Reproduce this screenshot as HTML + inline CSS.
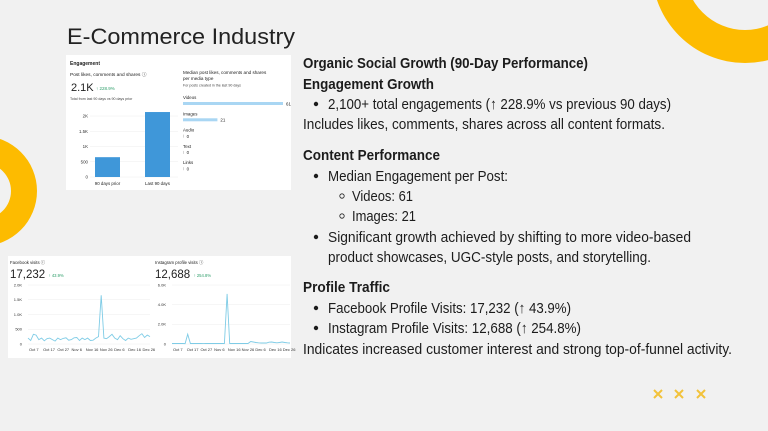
<!DOCTYPE html>
<html><head><meta charset="utf-8"><style>
html,body{margin:0;padding:0}
body{width:768px;height:431px;background:#f1f1f1;position:relative;overflow:hidden;font-family:"Liberation Sans",sans-serif}
svg{position:absolute;left:0;top:0}
</style></head><body>
<svg width="768" height="431" viewBox="0 0 768 431">
  <path fill-rule="evenodd" fill="#fdbb00" d="M652,-30a93,93 0 1,0 186,0a93,93 0 1,0 -186,0ZM685,-30a60,60 0 1,0 120,0a60,60 0 1,0 -120,0Z"/>
  <path fill-rule="evenodd" fill="#fdbb00" d="M-73,191a55,55 0 1,0 110,0a55,55 0 1,0 -110,0ZM-45,191a28,28 0 1,0 56,0a28,28 0 1,0 -56,0Z"/>
  <g stroke="#f2c23a" stroke-width="2">
    <path d="M654,390l8,8M662,390l-8,8"/>
    <path d="M675,390l8,8M683,390l-8,8"/>
    <path d="M697,390l8,8M705,390l-8,8"/>
  </g>
  <text x="67" y="44" font-size="22" fill="#222" textLength="228" lengthAdjust="spacingAndGlyphs">E-Commerce Industry</text>

  <rect x="66" y="55" width="225" height="135" fill="#fff"/>
  <g id="eng" font-family="Liberation Sans, sans-serif" fill="#222"></g>

  <rect x="8" y="256" width="283" height="102" fill="#fff"/>
  <g id="vis" font-family="Liberation Sans, sans-serif" fill="#222"></g>

  <g font-size="15" fill="#1c1c1c">
    <text x="303" y="68" font-weight="bold" textLength="285" lengthAdjust="spacingAndGlyphs">Organic Social Growth (90-Day Performance)</text>
    <text x="303" y="89" font-weight="bold" textLength="131" lengthAdjust="spacingAndGlyphs">Engagement Growth</text>
    <circle cx="316" cy="104" r="2.2"/>
    <text x="328" y="109" textLength="343" lengthAdjust="spacingAndGlyphs">2,100+ total engagements (↑ 228.9% vs previous 90 days)</text>
    <text x="303" y="129" textLength="362" lengthAdjust="spacingAndGlyphs">Includes likes, comments, shares across all content formats.</text>
    <text x="303" y="160" font-weight="bold" textLength="137" lengthAdjust="spacingAndGlyphs">Content Performance</text>
    <circle cx="316" cy="176" r="2.2"/>
    <text x="328" y="181" textLength="180" lengthAdjust="spacingAndGlyphs">Median Engagement per Post:</text>
    <circle cx="342" cy="196" r="2.2" fill="none" stroke="#1c1c1c" stroke-width="0.8"/>
    <text x="352" y="201" textLength="61" lengthAdjust="spacingAndGlyphs">Videos: 61</text>
    <circle cx="342" cy="216" r="2.2" fill="none" stroke="#1c1c1c" stroke-width="0.8"/>
    <text x="352" y="221" textLength="64" lengthAdjust="spacingAndGlyphs">Images: 21</text>
    <circle cx="316" cy="237" r="2.2"/>
    <text x="328" y="242" textLength="363" lengthAdjust="spacingAndGlyphs">Significant growth achieved by shifting to more video-based</text>
    <text x="328" y="262" textLength="323" lengthAdjust="spacingAndGlyphs">product showcases, UGC-style posts, and storytelling.</text>
    <text x="303" y="292" font-weight="bold" textLength="87" lengthAdjust="spacingAndGlyphs">Profile Traffic</text>
    <circle cx="316" cy="308" r="2.2"/>
    <text x="328" y="313" textLength="243" lengthAdjust="spacingAndGlyphs">Facebook Profile Visits: 17,232 (↑ 43.9%)</text>
    <circle cx="316" cy="328" r="2.2"/>
    <text x="328" y="333" textLength="253" lengthAdjust="spacingAndGlyphs">Instagram Profile Visits: 12,688 (↑ 254.8%)</text>
    <text x="303" y="354" textLength="429" lengthAdjust="spacingAndGlyphs">Indicates increased customer interest and strong top-of-funnel activity.</text>
  </g>
</svg>
<script>
const engCategories = ["90 days prior", "Last 90 days"];
const engValues = [650, 2130];
const engTicks = [0, 500, 1000, 1500, 2000];
const engTickLabels = ["0", "500", "1K", "1.5K", "2K"];
const mediaTypes = ["Videos", "Images", "Audio", "Text", "Links"];
const mediaValues = [61, 21, 0, 0, 0];
const fbValues = [200,120,330,300,150,200,110,180,200,150,100,200,150,190,210,130,150,210,220,120,200,150,200,120,130,200,250,1650,200,180,250,330,200,150,280,180,120,200,160,180,200,280,350,220,300,250];
const fbTicks = [0, 500, 1000, 1500, 2000];
const fbTickLabels = ["0", "500", "1.0K", "1.5K", "2.0K"];
const igValues = [50,50,50,50,50,40,1000,50,50,50,50,50,40,50,50,50,50,50,50,50,50,5100,50,50,50,50,50,50,50,50,250,200,150,120,100,100,100,180,200,150,120,150,200,150,120,100];
const igTicks = [0, 2000, 4000, 6000];
const igTickLabels = ["0", "2.0K", "4.0K", "6.0K"];
const dateLabels = ["Oct 7","Oct 17","Oct 27","Nov 6","Nov 16","Nov 26","Dec 6","Dec 16","Dec 26"];

const NS = "http://www.w3.org/2000/svg";
function mk(parent, tag, attrs, text) {
  const e = document.createElementNS(NS, tag);
  for (const k in attrs) e.setAttribute(k, attrs[k]);
  if (text !== undefined) e.textContent = text;
  parent.appendChild(e);
  return e;
}
const eng = document.getElementById("eng");


let t;
t = mk(eng, "text", {x:70, y:65, "font-size":5, "font-weight":"bold"}, "Engagement");
 
t = mk(eng, "text", {x:70, y:76, "font-size":4.8}, "Post likes, comments and shares ⓘ");
 
t = mk(eng, "text", {x:71, y:91, "font-size":11}, "2.1K");
 
t = mk(eng, "text", {x:96, y:90, "font-size":4.5, fill:"#2e9e6a"}, "↑ 228.9%");
 
t = mk(eng, "text", {x:70, y:100, "font-size":3.6, fill:"#444"}, "Total from last 90 days vs 90 days prior");
 
const ey = v => 177 - v / 2000 * 61;
engTicks.forEach((v, i) => {
  const l = mk(eng, "line", {x1:90, x2:178, y1:ey(v), y2:ey(v), stroke:"#eee", "stroke-width":0.5});
   
  const tx = mk(eng, "text", {x:88, y:ey(v)+1.5, "font-size":4.4, "text-anchor":"end", fill:"#333"}, engTickLabels[i]);
   
});
const ex = i => 95 + i * 50;
engCategories.forEach((c, i) => {
  const r = mk(eng, "rect", {x:ex(i), y:ey(engValues[i]), width:25, height:ey(0)-ey(engValues[i]), fill:"#3f97d9"});
   
  const tx = mk(eng, "text", {x:ex(i)+12.5, y:185, "font-size":4.4, "text-anchor":"middle"}, c);
   
});
t = mk(eng, "text", {x:183, y:74, "font-size":4.6}, "Median post likes, comments and shares");
 
t = mk(eng, "text", {x:183, y:80, "font-size":4.6}, "per media type");
 
t = mk(eng, "text", {x:183, y:86.5, "font-size":3.6, fill:"#444"}, "For posts created in the last 90 days");
 
const mx = v => v / 61 * 100;
mediaTypes.forEach((m, i) => {
  const y = 99 + i * 16.3;
  const tx = mk(eng, "text", {x:183, y:y, "font-size":4.4}, m);
   
  const r = mk(eng, "rect", {x:183, y:y+3, width:Math.max(mx(mediaValues[i]), 0.6), height:3, fill:mediaValues[i] ? "#a9d6f3" : "#bbb"});
   
  const v = mk(eng, "text", {x:183 + Math.max(mx(mediaValues[i]), 0.6) + 3, y:y+6.3, "font-size":4.4}, String(mediaValues[i]));
   
});

const vis = document.getElementById("vis");


function lineChart(title, total, change, vals, ticks, tickLabels, x0, x1, ymax, px) {
  let e = mk(vis, "text", {x:px, y:264, "font-size":4.3}, title);
   
  e = mk(vis, "text", {x:px, y:278, "font-size":11.5}, total);
   
  e = mk(vis, "text", {x:px + total.length * 6.1 + 2, y:277, "font-size":4.2, fill:"#2e9e6a"}, change);
   
  const yy = v => 344 - v / ymax * 59;
  ticks.forEach((v, i) => {
    const l = mk(vis, "line", {x1:x0, x2:x1, y1:yy(v), y2:yy(v), stroke:"#eee", "stroke-width":0.5});
     
    const tx = mk(vis, "text", {x:x0 - 6, y:yy(v)+1.4, "font-size":4, "text-anchor":"end", fill:"#333"}, tickLabels[i]);
     
  });
  const xx = i => x0 + i / (vals.length - 1) * (x1 - x0);
  const d = vals.map((v, i) => (i ? "L" : "M") + xx(i).toFixed(1) + "," + yy(v).toFixed(1)).join("");
  const p = mk(vis, "path", {d:d, fill:"none", stroke:"#7fcce6", "stroke-width":0.9});
   
  dateLabels.forEach((dl, i) => {
    const tx = mk(vis, "text", {x:x0 + 1 + i * (x1 - x0) / 8.6, y:351, "font-size":4, fill:"#333"}, dl);
     
  });
}
lineChart("Facebook visits ⓘ", "17,232", "↑ 43.9%", fbValues, fbTicks, fbTickLabels, 28, 150, 2000, 10);
lineChart("Instagram profile visits ⓘ", "12,688", "↑ 254.8%", igValues, igTicks, igTickLabels, 172, 290, 6000, 155);
</script>
</body></html>
